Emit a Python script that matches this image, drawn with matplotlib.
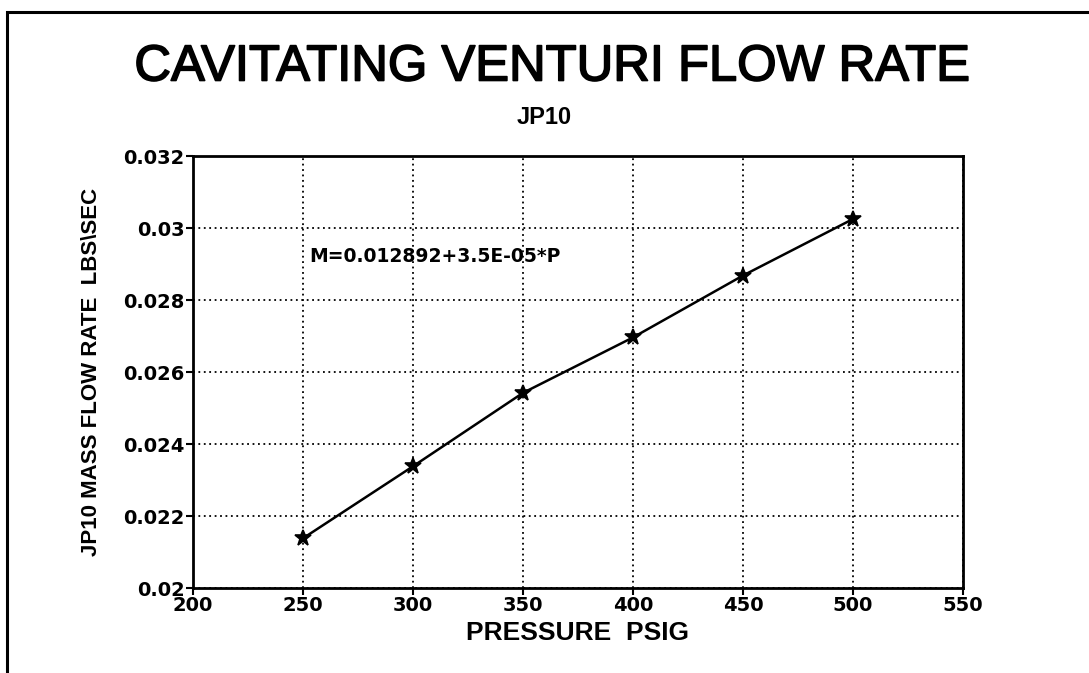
#Used for making plots
import matplotlib.pyplot as plt
from matplotlib.patches import Rectangle
from matplotlib import font_manager
import matplotlib.patheffects as pe

plt.rcParams['font.family'] = ['Liberation Sans', 'DejaVu Sans']

#Pressure readings and the mass flow rate
pressure = [250, 300, 350, 400, 450, 500]
flow_rate = [0.02138, 0.02338, 0.02542, 0.02696, 0.02868, 0.03025]

x_ticks = [200, 250, 300, 350, 400, 450, 500, 550]
y_ticks = [0.02, 0.022, 0.024, 0.026, 0.028, 0.03, 0.032]
y_tick_labels = ['0.02', '0.022', '0.024', '0.026', '0.028', '0.03', '0.032']

#Check for a narrow font for the y label, fall back if not there
try:
    font_manager.findfont('Liberation Sans Narrow', fallback_to_default=False)
    narrow = 'Liberation Sans Narrow'
    ylabel_size = 20
except ValueError:
    narrow = 'Liberation Sans'
    ylabel_size = 16

fig = plt.figure(figsize=(10.89, 6.73), dpi=100)

#Border round the whole page like the scanned figure
fig.patches.append(Rectangle((7 / 1089, -0.05), 1.2, 1 - 12 / 673 + 0.05,
                             transform=fig.transFigure, fill=False,
                             edgecolor='black', linewidth=2.2))

ax = fig.add_axes([0.1772, 0.1263, 0.7071, 0.6419])

#Plot the flow rate line with star markers
ax.plot(pressure, flow_rate, color='black', linewidth=1.8,
        marker='*', markersize=12, markeredgewidth=1.2)

ax.set_xlim(200, 550)
ax.set_ylim(0.02, 0.032)
ax.set_xticks(x_ticks)
ax.set_xticklabels([str(t) for t in x_ticks], fontsize=14,
                   fontweight='bold', family='DejaVu Sans')
ax.set_yticks(y_ticks)
ax.set_yticklabels(y_tick_labels, fontsize=14, fontweight='bold',
                   family='DejaVu Sans')
ax.tick_params(direction='out', length=5, width=1.5, pad=1)

#Dotted grid
ax.grid(True, linestyle=(0, (1, 2)), color='black', linewidth=1.3)
for s in ax.spines.values():
    s.set_linewidth(2)

#Fit equation written on the chart
ax.text(253, 0.02922, 'M=0.012892+3.5E-05*P', fontsize=13.5,
        fontweight='bold', family='DejaVu Sans', va='center', ha='left')

#Labels
ax.set_xlabel('PRESSURE  PSIG', fontsize=19, fontweight='bold', labelpad=4)
ax.set_ylabel('JP10 MASS FLOW RATE  LBS\\SEC', fontsize=ylabel_size,
              fontweight='bold', family=narrow, labelpad=15)

#Titles
fig.text(0.507, 1 - 67 / 673, 'CAVITATING VENTURI FLOW RATE', fontsize=36.5,
         ha='center', va='center',
         path_effects=[pe.withStroke(linewidth=1.2, foreground='black')])
fig.text(0.5, 1 - 118 / 673, 'JP10', fontsize=17, fontweight='bold',
         ha='center', va='center')

plt.savefig('out.png', dpi=100)
